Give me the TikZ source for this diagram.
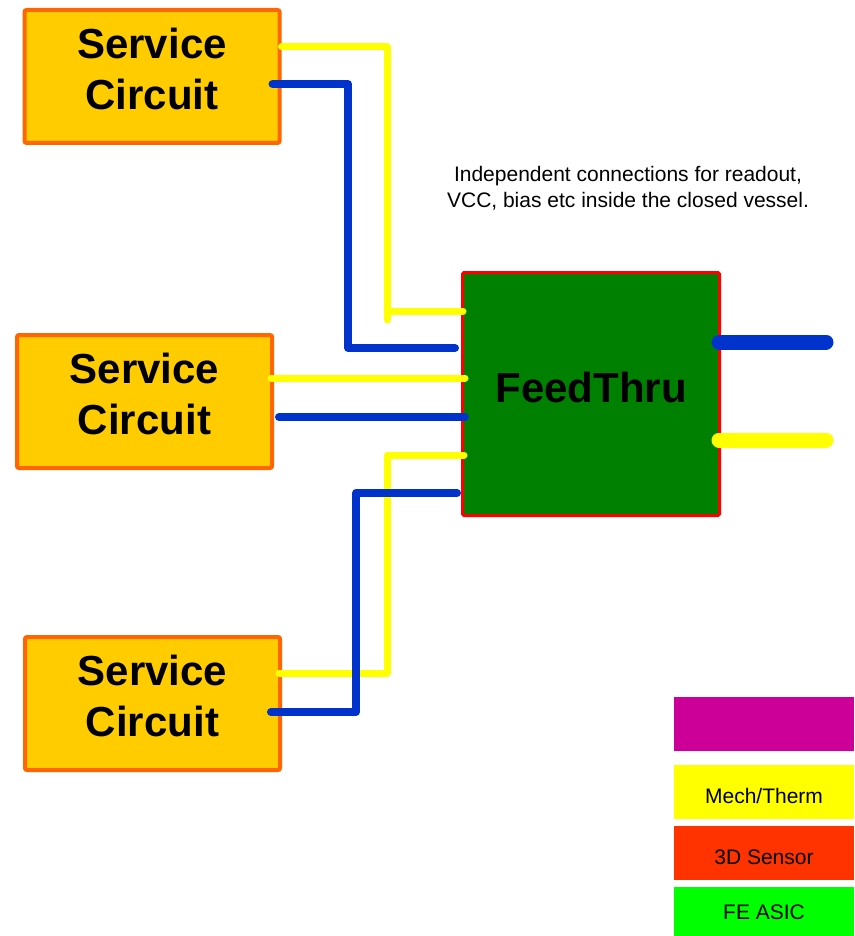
\documentclass[tikz,border=0pt]{standalone}
\usepackage{fontspec}
\setmainfont{Liberation Sans}
\usetikzlibrary{positioning}

\definecolor{wireyellow}{HTML}{FFFF00}
\definecolor{wireblue}{HTML}{0033CC}
\definecolor{svcfill}{HTML}{FFCC00}
\definecolor{svcline}{HTML}{FF6600}
\definecolor{ftgreen}{HTML}{008000}
\definecolor{legmagenta}{HTML}{CC0099}
\definecolor{legred}{HTML}{FF3300}
\definecolor{leggreen}{HTML}{00FF00}

\begin{document}
\begin{tikzpicture}[
    x=1pt, y=-1pt,
    service/.style={draw=svcline, fill=svcfill, line width=4pt, rounded corners=2pt, align=center,
        minimum width=255pt, minimum height=133pt, font=\fontsize{42}{51}\selectfont\bfseries},
    feed/.style={draw=red, fill=ftgreen, line width=3pt, rounded corners=1.5pt,
        minimum width=257pt, minimum height=243pt, font=\fontsize{42}{51}\selectfont\bfseries},
    legend/.style={minimum width=180pt, minimum height=54pt, inner sep=0pt, font=\fontsize{21}{25}\selectfont},
    ywire/.style={draw=wireyellow, line width=7pt, line cap=round, line join=round},
    bwire/.style={draw=wireblue, line width=8pt, line cap=round, line join=round},
    outwire/.style={line width=15pt, line cap=round}
]
\useasboundingbox (0,0) rectangle (854,936);

% service circuits and the feedthrough
\node[service] (sc1) at (152,76.5) {Service\\Circuit\rule[-16pt]{0pt}{0pt}};
\node[service] (sc2) at (144.5,401.5) {Service\\Circuit\rule[-16pt]{0pt}{0pt}};
\node[service] (sc3) at (152.5,703.5) {Service\\Circuit\rule[-16pt]{0pt}{0pt}};
\node[feed] (ft) at (591,394) {FeedThru\rule[-14pt]{0pt}{0pt}};

\node[align=center, font=\fontsize{21}{26}\selectfont] (note) at (628,188)
    {Independent connections for readout,\\VCC, bias etc inside the closed vessel.};

% vertical runs of the cables
\coordinate (yrun1) at (387,320);
\coordinate (brun1) at (348,0);
\coordinate (yrun3) at (387,0);
\coordinate (brun3) at (356,0);

% yellow cables
\draw[ywire] ([yshift=29.5pt]sc1.east) -| (yrun1);
\draw[ywire] (yrun1 |- 0,311) -- ([xshift=2pt,yshift=83pt]ft.west);
\draw[ywire] ([xshift=-3pt,yshift=23.5pt]sc2.east) -- ([xshift=4pt,yshift=16pt]ft.west);
\draw[ywire] ([xshift=-3pt,yshift=30.5pt]sc3.east) -| (yrun3 |- 0,455) -- ([xshift=3pt,yshift=-61pt]ft.west);

% blue cables
\draw[bwire] ([xshift=-9pt,yshift=-7.5pt]sc1.east) -| (brun1 |- 0,348) -- ([xshift=-6pt,yshift=46pt]ft.west);
\draw[bwire] ([xshift=5pt,yshift=-15.5pt]sc2.east) -- ([xshift=4pt,yshift=-23pt]ft.west);
\draw[bwire] ([xshift=-11pt,yshift=-8.5pt]sc3.east) -| (brun3 |- 0,493) -- ([xshift=-4pt,yshift=-99pt]ft.west);

% outgoing cables
\coordinate (outb) at (826,342);
\coordinate (outy) at (826,440);
\draw[outwire, wireblue] (ft.east |- outb) ++(-2,0) -- (outb);
\draw[outwire, wireyellow] (ft.east |- outy) ++(-2,0) -- (outy);

% legend
\node[legend, fill=legmagenta] (legm) at (764,724) {};
\node[legend, fill=wireyellow, below=14pt of legm] (legmech) {\rule{0pt}{23pt}Mech/Therm};
\node[legend, fill=legred, below=6pt of legmech] (legsens) {\rule{0pt}{24pt}3D Sensor};
\node[legend, fill=leggreen, minimum height=50pt, below=7pt of legsens] (legasic) {FE ASIC};
\end{tikzpicture}
\end{document}
